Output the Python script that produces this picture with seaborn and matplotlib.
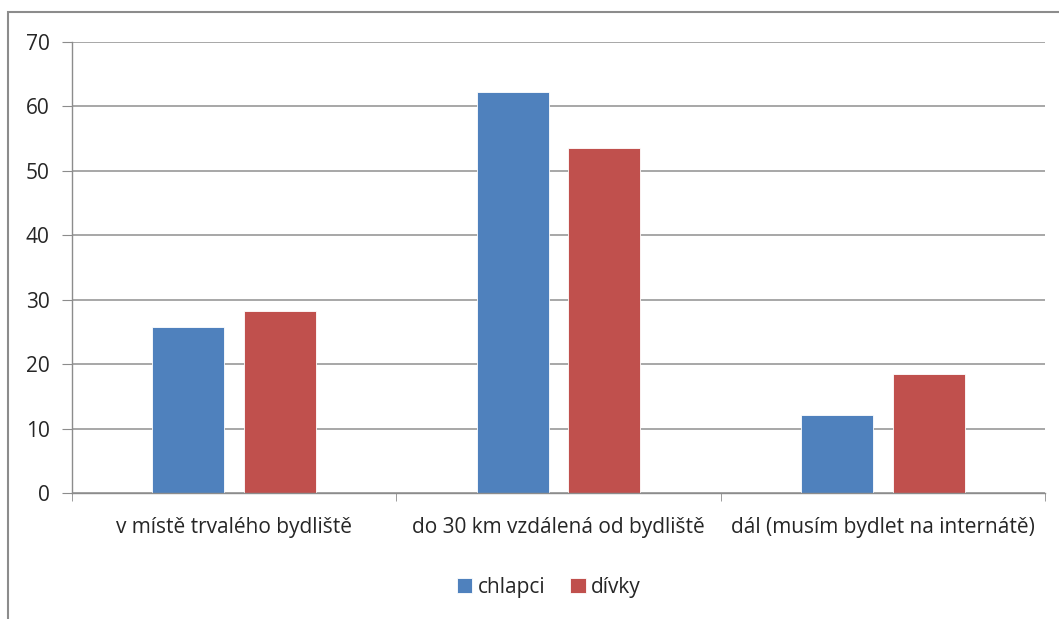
import pandas as pd
import seaborn as sns
import matplotlib.pyplot as plt
from matplotlib.patches import Rectangle

# data
categories = ['v místě trvalého bydliště', 'do 30 km vzdálená od bydliště', 'dál (musím bydlet na internátě)']
chlapci = [25.8, 62.2, 12.1]
divky = [28.2, 53.5, 18.4]
series = ['chlapci', 'dívky']
colors = ['#4F81BD', '#C0504D']

df = pd.DataFrame({
    'kategorie': categories * 2,
    'hodnota': chlapci + divky,
    'skupina': [series[0]] * 3 + [series[1]] * 3,
})

sns.set_style('white')
plt.rcParams['font.family'] = ['Open Sans', 'DejaVu Sans']

fig = plt.figure(figsize=(10.59, 6.19), dpi=100)
ax = fig.add_axes([0.068, 0.2036, 0.9188, 0.7286])

sns.barplot(data=df, x='kategorie', y='hodnota', hue='skupina', order=categories,
            hue_order=series, palette=colors, width=0.567, gap=0.217,
            edgecolor='white', linewidth=0.6, saturation=1, ax=ax)

ax.set_xlim(-0.5, 2.5)
ax.set_ylim(0, 70)
ax.set_yticks(range(0, 71, 10))
ax.set_xlabel('')
ax.set_ylabel('')
ax.yaxis.grid(True, color='#a0a0a0', linewidth=1.3)
ax.set_axisbelow(True)

for side in ['top', 'right']:
    ax.spines[side].set_visible(False)
for side in ['left', 'bottom']:
    ax.spines[side].set_color('#8c8c8c')
    ax.spines[side].set_linewidth(1.0)

# category boundary ticks like Excel
ax.set_xticks([-0.5, 0.5, 1.5, 2.5], minor=True)
ax.tick_params(axis='x', which='major', length=0, pad=17, labelsize=15, labelcolor='#262626')
ax.tick_params(axis='x', which='minor', length=6, color='#8c8c8c', direction='out', bottom=True)
ax.tick_params(axis='y', length=7, color='#8c8c8c', direction='out', left=True, pad=9,
               labelsize=15, labelcolor='#262626')

ax.legend(loc='upper center', bbox_to_anchor=(0.49, -0.145), ncol=2, frameon=False,
          fontsize=15, handlelength=0.75, handleheight=0.75, handletextpad=0.25,
          columnspacing=1.2, labelcolor='#262626')

# outer chart border
fig.patches.append(Rectangle((8 / 1059, -0.1), 1.2, 1 - 12 / 619 + 0.1, transform=fig.transFigure,
                             fill=False, edgecolor='#8c8c8c', linewidth=1.5))

fig.savefig('out.png', dpi=100)
